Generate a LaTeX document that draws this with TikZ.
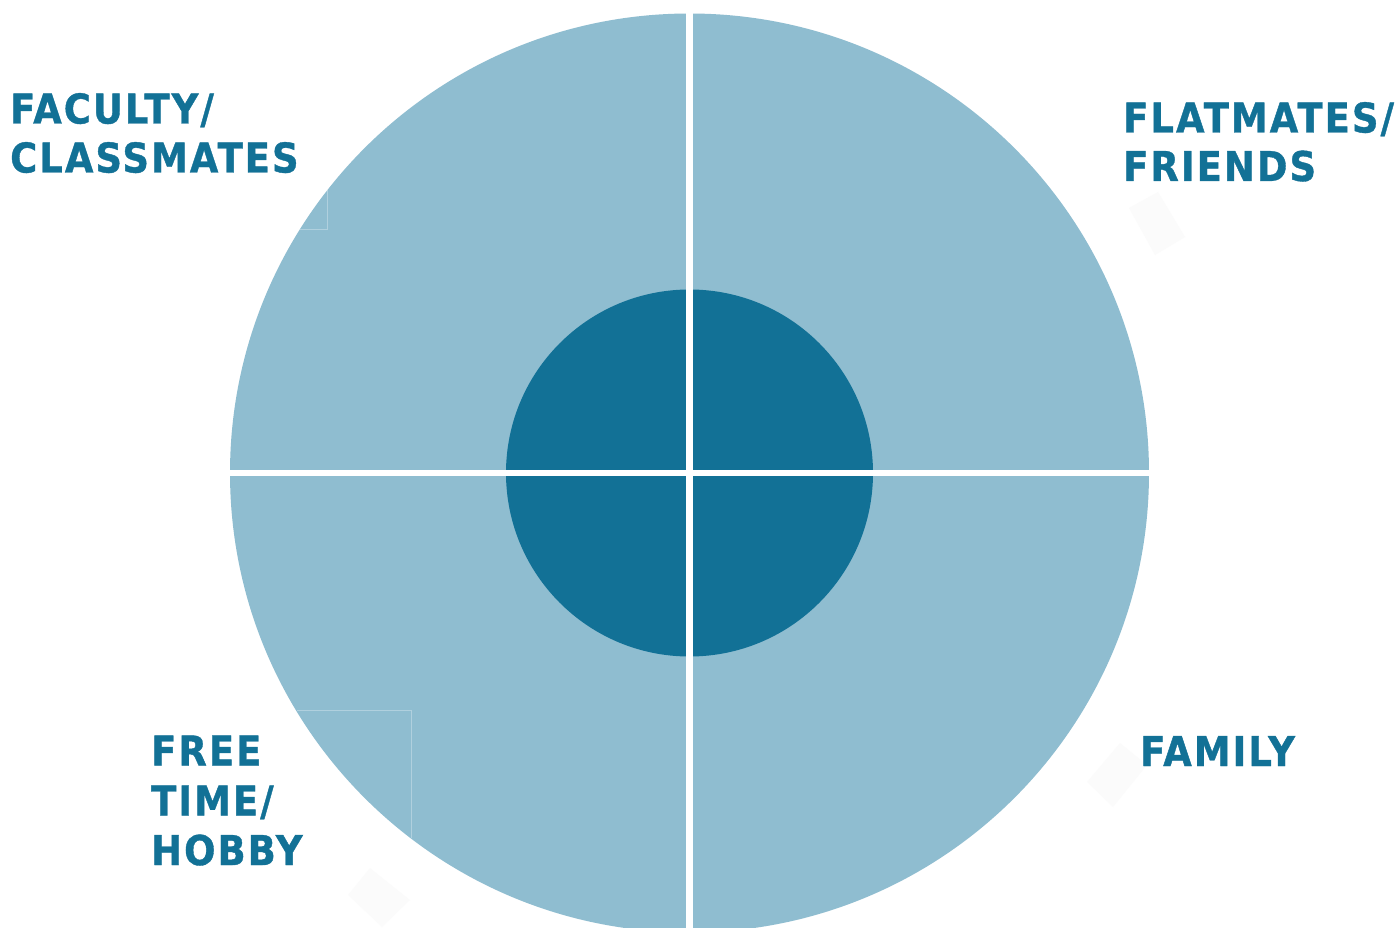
\documentclass[tikz,border=0pt]{standalone}
\usepackage{fontspec}
\setmainfont{DejaVu Sans}
\newfontfamily\lblfont[FakeStretch=0.9,LetterSpace=5,FakeBold=0.9]{DejaVu Sans Bold}
\definecolor{lightq}{HTML}{8FBDD0}
\definecolor{darkq}{HTML}{127196}
\definecolor{faint}{HTML}{FBFBFB}
\tikzset{
  lbl/.style={anchor=base west,inner sep=0pt,text=darkq,font=\lblfont\fontsize{41}{41}\selectfont},
  gap/.style={fill=white,draw=none},
  ghost/.style={draw=white,draw opacity=0.3,line width=1pt},
}
\begin{document}
\begin{tikzpicture}[x=1pt,y=-1pt]
\useasboundingbox (0,0) rectangle (1400,928);
\fill[white] (0,0) rectangle (1400,928);
% faint shapes outside
\fill[faint] (1158,192) -- (1185,237) -- (1155,255) -- (1129,208) -- cycle;
\fill[faint] (1120,743) -- (1147,765) -- (1113,807) -- (1087,782) -- cycle;
\fill[faint] (370,868) -- (410,900) -- (382,927) -- (348,895) -- cycle;
% outer ring
\coordinate (c) at (689.5,473);
\fill[lightq] (c) circle[radius=459.5];
% faint lines inside
\draw[ghost] (327,190) -- (327,230) -- (300,230);
\draw[ghost] (297,710) -- (411,710) -- (411,838);
% inner disc
\fill[darkq] (c) circle[radius=183.5];
% white gaps
\fill[gap] (686,0) rectangle (692.5,928);
\fill[gap] (220,470) rectangle (1160,476);
% labels
\node[lbl] (fac1) at (10,123.5) {FACULTY/};
\node[lbl] (fac2) at (10,172.5) {CLASSMATES};
\node[lbl] (fla1) at (1123,132.5) {FLATMATES/};
\node[lbl] (fla2) at (1123,181) {FRIENDS};
\node[lbl] (fre1) at (151,765.5) {FREE};
\node[lbl] (fre2) at (151,815.5) {TIME/};
\node[lbl] (fre3) at (151,865) {HOBBY};
\node[lbl] (fam) at (1140,766) {FAMILY};
\end{tikzpicture}
\end{document}
